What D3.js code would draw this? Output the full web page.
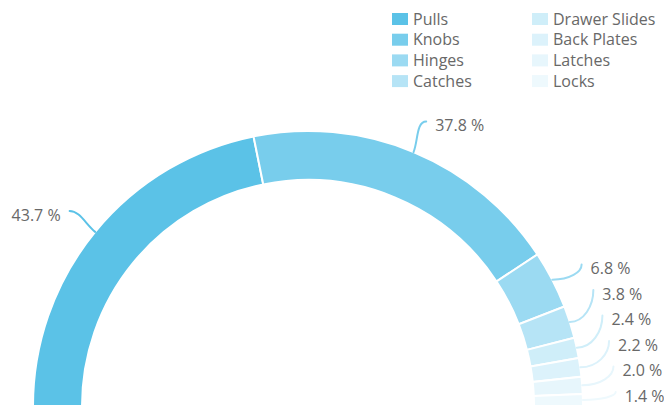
<!DOCTYPE html>
<html>
<head>
<meta charset="utf-8">
<script src="https://cdn.jsdelivr.net/npm/d3@7"></script>
<style>
  html, body { margin: 0; padding: 0; background: #fff; }
  svg { display: block; font-family: "Open Sans", sans-serif; }
</style>
</head>
<body>
<svg id="chart" width="664" height="414"></svg>
<script>
// Share of hardware sales by product type (percent)
const categories = ["Pulls", "Knobs", "Hinges", "Catches", "Drawer Slides", "Back Plates", "Latches", "Locks"];
const shares = [43.7, 37.8, 6.8, 3.8, 2.4, 2.2, 2.0, 1.4];
const palette = ["#5bc2e7", "#78cdec", "#9bdaf2", "#b6e4f6", "#cfeef9", "#dcf2fb", "#e7f6fc", "#eef9fd"];

const width = 664, height = 414;
const cx = 308, cy = 406;
const outerR = 275, innerR = 226;
const labelR = 308;
const pitch = 25.5;
const textColor = "#686868";

const svg = d3.select("#chart");

const rows = categories.map((c, i) => ({ name: c, value: shares[i], color: palette[i] }));

const pie = d3.pie()
  .sort(null)
  .value(d => d.value)
  .startAngle(-Math.PI / 2)
  .endAngle(Math.PI / 2);

const arc = d3.arc().innerRadius(innerR).outerRadius(outerR);
const arcs = pie(rows);

const g = svg.append("g").attr("transform", `translate(${cx},${cy})`);

g.selectAll("path.slice")
  .data(arcs)
  .join("path")
  .attr("class", "slice")
  .attr("d", arc)
  .attr("fill", d => d.data.color)
  .attr("stroke", "#fff")
  .attr("stroke-width", 2);

// Label placement: natural anchor on the label circle at each slice's mid angle,
// crowded runs on one side are stacked at a fixed pitch.
const labels = arcs.map(a => {
  const mid = (a.startAngle + a.endAngle) / 2;
  const sx = Math.sin(mid), sy = -Math.cos(mid);
  return {
    a, mid, sx, sy,
    side: sx >= 0 ? 1 : -1,
    p0: [outerR * sx, outerR * sy],
    ny: labelR * sy,
    crowded: false
  };
});

[1, -1].forEach(side => {
  const list = labels.filter(l => l.side === side).sort((a, b) => a.ny - b.ny);
  let prev = null;
  list.forEach(l => {
    if (prev && l.ny - prev.y < 2 * pitch) {
      l.y = Math.min(l.ny, prev.y + pitch);
      l.crowded = true;
      prev.crowded = true;
    } else {
      l.y = l.ny;
    }
    prev = l;
  });
});

labels.forEach(l => {
  const dy = Math.min(Math.abs(l.y), labelR);
  l.x = l.side * Math.sqrt(labelR * labelR - dy * dy);
});

const connector = l => {
  const [x0, y0] = l.p0;
  let c1, c2;
  if (l.crowded) {
    c1 = [x0 + (l.x - x0) * 0.6, y0];
    c2 = [l.x, l.y + (y0 - l.y) * 0.5];
  } else {
    c1 = [x0 + l.sx * 12, y0 + l.sy * 12];
    c2 = [l.x - l.side * 10, l.y];
  }
  const p = d3.path();
  p.moveTo(x0, y0);
  p.bezierCurveTo(c1[0], c1[1], c2[0], c2[1], l.x, l.y);
  return p.toString();
};

g.selectAll("path.connector")
  .data(labels)
  .join("path")
  .attr("class", "connector")
  .attr("d", connector)
  .attr("fill", "none")
  .attr("stroke", l => l.a.data.color)
  .attr("stroke-width", 2)
  .attr("stroke-linecap", "round");

g.selectAll("text.value")
  .data(labels)
  .join("text")
  .attr("class", "value")
  .attr("x", l => l.x + l.side * 9)
  .attr("y", l => l.y + 4)
  .attr("dy", "0.35em")
  .attr("text-anchor", l => l.side > 0 ? "start" : "end")
  .attr("fill", textColor)
  .attr("font-size", 16)
  .text(l => l.a.data.value.toFixed(1) + " %");

// Legend: two columns of four
const legend = svg.append("g").attr("transform", "translate(392,13)");
const colX = d3.scaleOrdinal().domain([0, 1]).range([0, 140]);
const rowY = d3.scaleLinear().domain([0, 1]).range([0, 20.7]);

const items = legend.selectAll("g.item")
  .data(rows)
  .join("g")
  .attr("class", "item")
  .attr("transform", (d, i) => `translate(${colX(Math.floor(i / 4))},${rowY(i % 4)})`);

items.append("rect")
  .attr("width", 16)
  .attr("height", 12)
  .attr("fill", d => d.color);

items.append("text")
  .attr("x", 21)
  .attr("y", 6)
  .attr("dy", "0.35em")
  .attr("fill", textColor)
  .attr("font-size", 16)
  .text(d => d.name);
</script>
</body>
</html>
